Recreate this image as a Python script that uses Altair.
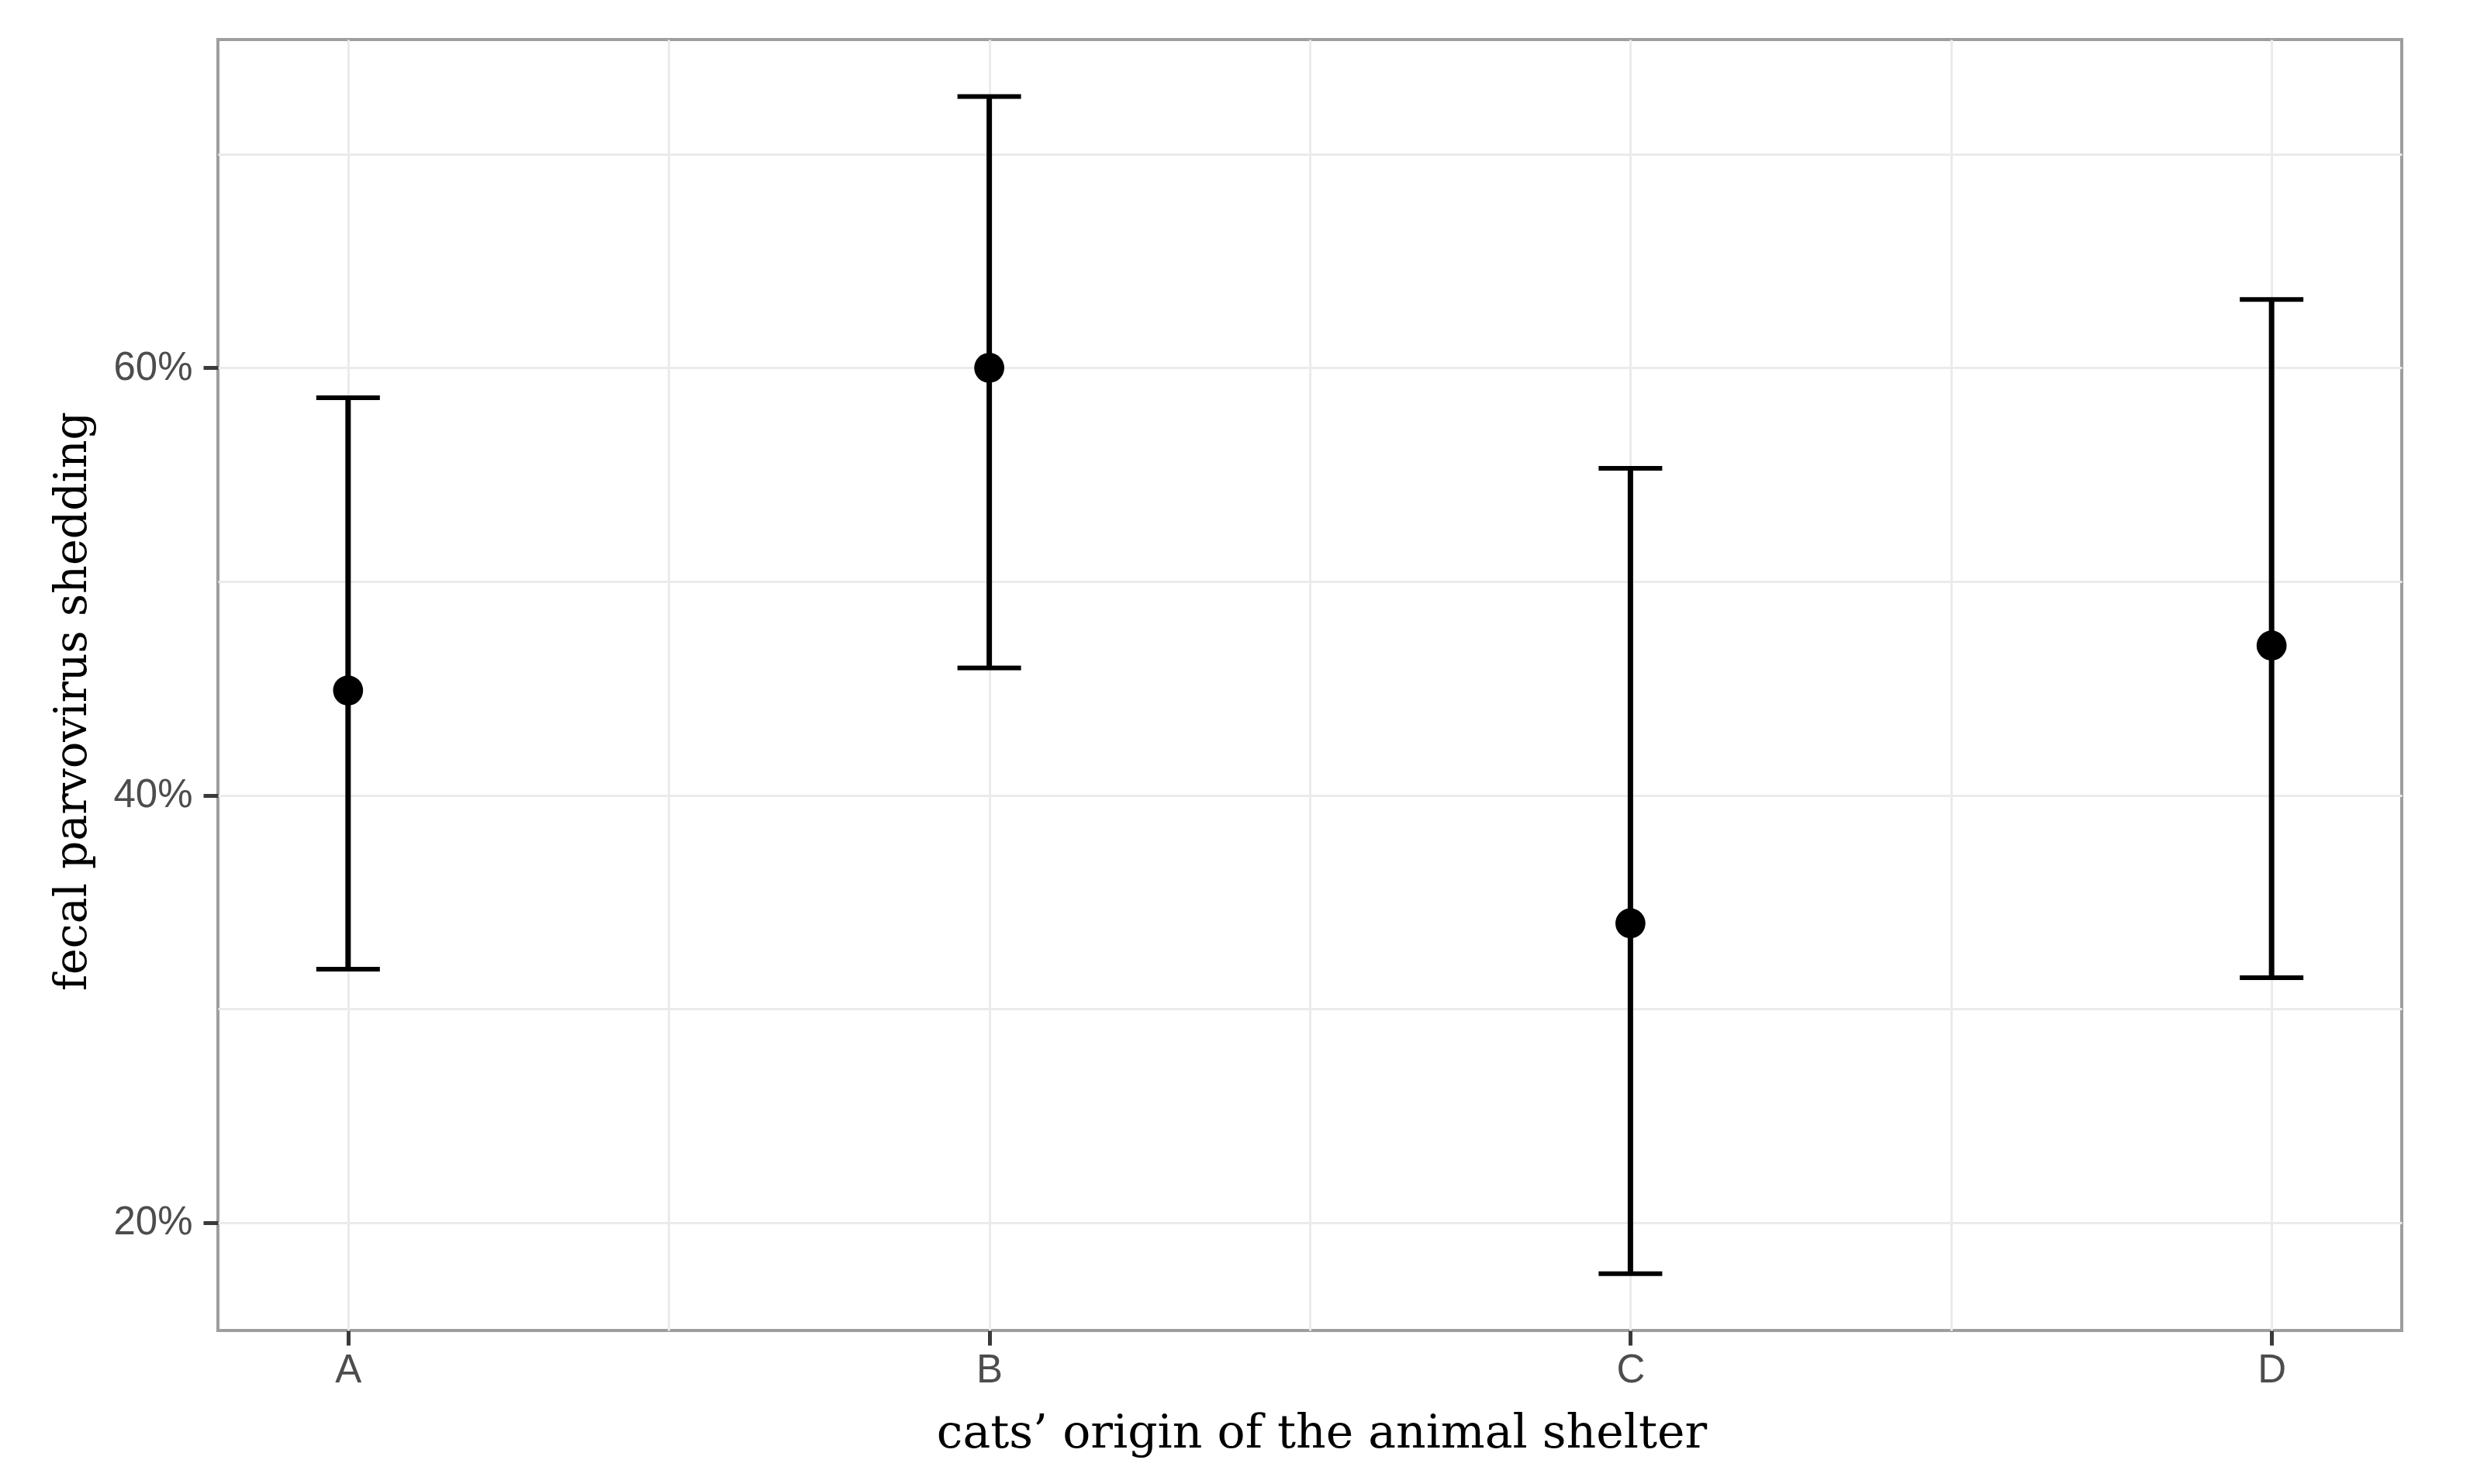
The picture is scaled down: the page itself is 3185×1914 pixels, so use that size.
import altair as alt
import pandas as pd

# ---- data ----
categories = ["A", "B", "C", "D"]
positions = [1, 2, 3, 4]
estimate = [44.9, 60.0, 34.0, 47.0]
lower = [31.85, 45.95, 17.6, 31.45]
upper = [58.6, 72.7, 55.3, 63.2]

x_ticks = [1, 1.5, 2, 2.5, 3, 3.5, 4]
y_ticks = [20, 30, 40, 50, 60, 70]
y_labeled = [20, 40, 60]

df = pd.DataFrame({
    "pos": positions,
    "cat": categories,
    "est": estimate,
    "lo": lower,
    "hi": upper,
})

x_label_expr = " : ".join(
    [f"datum.value === {p} ? '{c}'" for p, c in zip(positions, categories)]
) + " : ''"
y_label_expr = "indexof([" + ",".join(str(v) for v in y_labeled) + "], datum.value) >= 0 ? datum.value + '%' : ''"

LABEL_FONT = "Liberation Sans"
TITLE_FONT = "DejaVu Serif"
GRID = "#ebebeb"

x_scale = alt.Scale(domain=[0.797, 4.203], nice=False, zero=False)
y_scale = alt.Scale(domain=[14.94, 75.37], nice=False, zero=False)

x_axis = alt.Axis(
    values=x_ticks,
    labelExpr=x_label_expr,
    title="cats\u2019 origin of the animal shelter",
    titleFont=TITLE_FONT,
    titleFontSize=60,
    titleFontWeight="normal",
    titleColor="#000000",
    titleX=1423,
    titleY=150,
    titleBaseline="alphabetic",
    labelFont=LABEL_FONT,
    labelFontSize=51,
    labelColor="#4d4d4d",
    labelPadding=7,
    labelOverlap=False,
    labelFlush=False,
    tickSize=19,
    tickWidth=5,
    tickColor="#3a3a3a",
    tickOpacity={"condition": {"test": "datum.value % 1 === 0", "value": 1}, "value": 0},
    domain=False,
    grid=True,
    gridColor=GRID,
    gridWidth=3,
)

y_axis = alt.Axis(
    values=y_ticks,
    labelExpr=y_label_expr,
    title="fecal parvovirus shedding",
    titleFont=TITLE_FONT,
    titleFontSize=57,
    titleFontWeight="normal",
    titleColor="#000000",
    titleX=-171,
    titleY=853,
    titleAngle=270,
    titleBaseline="alphabetic",
    labelFont=LABEL_FONT,
    labelFontSize=51,
    labelColor="#4d4d4d",
    labelPadding=14,
    labelOverlap=False,
    labelFlush=False,
    tickSize=19,
    tickWidth=5,
    tickColor="#3a3a3a",
    tickOpacity={"condition": {"test": "datum.value % 20 === 0", "value": 1}, "value": 0},
    domain=False,
    grid=True,
    gridColor=GRID,
    gridWidth=3,
)

base = alt.Chart(df)

stems = base.mark_rule(color="black", strokeWidth=7).encode(
    x=alt.X("pos:Q", scale=x_scale, axis=x_axis),
    y=alt.Y("lo:Q", scale=y_scale, axis=y_axis),
    y2="hi:Q",
)

caps_hi = base.mark_tick(color="black", orient="horizontal", size=82, thickness=6, opacity=1).encode(
    x=alt.X("pos:Q", scale=x_scale),
    y=alt.Y("hi:Q", scale=y_scale),
)
caps_lo = base.mark_tick(color="black", orient="horizontal", size=82, thickness=6, opacity=1).encode(
    x=alt.X("pos:Q", scale=x_scale),
    y=alt.Y("lo:Q", scale=y_scale),
)

points = base.mark_point(filled=True, color="black", size=1500, opacity=1, shape="circle").encode(
    x=alt.X("pos:Q", scale=x_scale),
    y=alt.Y("est:Q", scale=y_scale),
)

chart = (
    alt.layer(stems, caps_hi, caps_lo, points)
    .properties(
        width=2816,
        height=1665,
        autosize=alt.AutoSizeParams(type="none"),
        padding={"left": 273, "top": 43, "right": 80, "bottom": 190},
        background="white",
    )
    .configure_view(stroke="#9e9e9e", strokeWidth=4)
)

chart.save("out.html", embed_options={"renderer": "svg", "actions": False})
